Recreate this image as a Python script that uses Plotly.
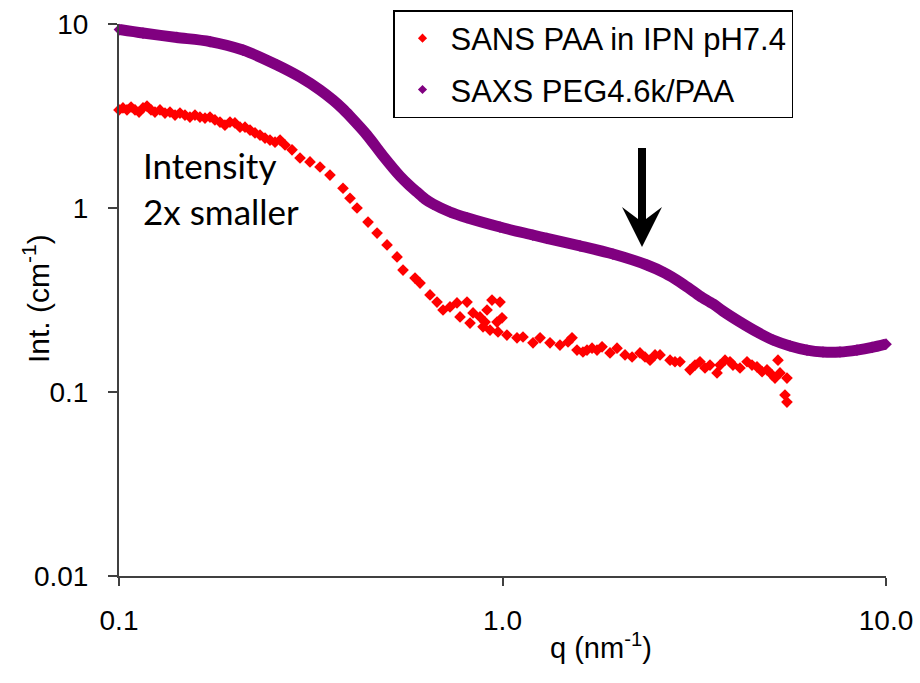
import plotly.graph_objects as go

# ---------------- data ----------------
sans_q = [0.100, 0.1024, 0.1049, 0.1075, 0.1101, 0.1128, 0.1155, 0.1183, 0.1212, 0.1241,
          0.1279, 0.1318, 0.1358, 0.1400, 0.1442, 0.1486, 0.1531, 0.1578, 0.1626, 0.1676,
          0.1727, 0.1779, 0.1834, 0.1889, 0.1947, 0.2006, 0.2068, 0.2131, 0.2196, 0.2263,
          0.2332, 0.2403, 0.2476, 0.2552, 0.2630, 0.2710, 0.2826, 0.2965, 0.3148, 0.3343,
          0.3549, 0.3838, 0.4003, 0.4175, 0.4460, 0.4709, 0.5000, 0.5309, 0.5503, 0.5914,
          0.6095, 0.6471, 0.6749, 0.6997, 0.7296, 0.7609, 0.7749, 0.8081, 0.8229, 0.8379,
          0.8737, 0.8897, 0.9004, 0.9113, 0.9278, 0.9389, 0.9676, 0.9734, 0.9851, 0.9970,
          1.027, 1.091, 1.131, 1.201, 1.253, 1.330, 1.412, 1.482, 1.518, 1.564,
          1.621, 1.661, 1.712, 1.764, 1.818, 1.907, 1.989, 2.087, 2.177, 2.283,
          2.353, 2.425, 2.499, 2.575, 2.735, 2.817, 2.903, 3.083, 3.177, 3.273,
          3.373, 3.476, 3.626, 3.692, 3.804, 3.920, 3.990, 4.162, 4.341, 4.473,
          4.609, 4.751, 4.894, 5.043, 5.135, 5.228, 5.291, 5.452, 5.518, 5.518]
sans_I = [3.41, 3.50, 3.41, 3.54, 3.41, 3.32, 3.50, 3.58, 3.41, 3.32,
          3.41, 3.28, 3.32, 3.20, 3.28, 3.20, 3.12, 3.20, 3.12, 3.08,
          3.12, 3.01, 2.93, 2.82, 2.93, 2.90, 2.75, 2.75, 2.65, 2.56,
          2.49, 2.40, 2.34, 2.28, 2.34, 2.20, 2.07, 1.87, 1.78, 1.67,
          1.51, 1.28, 1.13, 1.00, 0.839, 0.731, 0.630, 0.542, 0.460, 0.416,
          0.391, 0.337, 0.308, 0.279, 0.290, 0.305, 0.256, 0.308, 0.237, 0.269,
          0.256, 0.226, 0.240, 0.279, 0.217, 0.316, 0.240, 0.212, 0.308, 0.253,
          0.204, 0.197, 0.199, 0.185, 0.197, 0.185, 0.180, 0.187, 0.197, 0.169,
          0.165, 0.169, 0.173, 0.169, 0.176, 0.163, 0.173, 0.159, 0.155, 0.163,
          0.155, 0.149, 0.159, 0.159, 0.149, 0.146, 0.146, 0.132, 0.140, 0.146,
          0.135, 0.140, 0.127, 0.140, 0.149, 0.146, 0.140, 0.135, 0.146, 0.140,
          0.137, 0.129, 0.132, 0.124, 0.119, 0.149, 0.127, 0.0963, 0.119, 0.0882]

saxs_q = [0.1003, 0.1155, 0.1416, 0.1727, 0.2105, 0.2582, 0.2965, 0.3343, 0.3614, 0.3837,
          0.3997, 0.4433, 0.488, 0.5404, 0.574, 0.598, 0.628, 0.659, 0.7296, 0.808,
          0.985, 1.20, 1.306, 1.592, 1.941, 2.381, 2.653, 2.903, 3.083, 3.273,
          3.540, 3.758, 4.162, 4.609, 5.074, 5.62, 6.223, 6.85, 7.586, 8.40,
          9.194, 10.0]
saxs_I = [9.33, 8.93, 8.45, 8.03, 7.22, 5.99, 5.15, 4.38, 3.86, 3.45,
          3.16, 2.49, 1.92, 1.49, 1.317, 1.222, 1.119, 1.051, 0.951, 0.885,
          0.788, 0.713, 0.683, 0.622, 0.562, 0.490, 0.443, 0.396, 0.363, 0.332,
          0.301, 0.275, 0.240, 0.212, 0.1917, 0.178, 0.169, 0.165, 0.165, 0.169,
          0.1746, 0.182]

series_names = ["SANS PAA in IPN pH7.4", "SAXS PEG4.6k/PAA"]
series_colors = ["#FF0000", "#800080"]

x_tickvals = [0.1, 1.0, 10.0]
x_ticktext = ["0.1", "1.0", "10.0"]
y_tickvals = [0.01, 0.1, 1, 10]
y_ticktext = ["0.01", "0.1", "1", "10"]

# ---------------- figure ----------------
L, R, T, B = 119, 34, 24, 107
W, H = 920, 683
PW, PH = W - L - R, H - T - B

def px_x(p):
    return (p - L) / PW

def px_y(p):
    return (H - B - p) / PH

fig = go.Figure()

fig.add_trace(go.Scatter(
    x=sans_q, y=sans_I, mode="markers", showlegend=False, cliponaxis=False,
    marker=dict(symbol="diamond", size=9, color=series_colors[0], line=dict(width=0)),
))
fig.add_trace(go.Scatter(
    x=saxs_q, y=saxs_I, mode="lines+markers", showlegend=False, cliponaxis=False,
    line=dict(color=series_colors[1], width=11, shape="spline", smoothing=0.8),
    marker=dict(symbol="diamond", size=9, color=series_colors[1], line=dict(width=0)),
))
# legend entries
for i, (nm, col) in enumerate(zip(series_names, series_colors)):
    fig.add_trace(go.Scatter(
        x=[None], y=[None], mode="markers", name=nm, legendgroup=f"g{i}",
        marker=dict(symbol="diamond", size=7, color=col),
    ))

FONT = "Liberation Sans, Arial, sans-serif"
axis_font = dict(family=FONT, size=28, color="black")

fig.update_xaxes(
    type="log", range=[-1, 1], tickvals=x_tickvals, ticktext=x_ticktext,
    showline=True, linecolor="#404040", linewidth=2, mirror=False,
    ticks="outside", ticklen=8, tickwidth=1.5, tickcolor="#404040",
    showgrid=False, zeroline=False, tickfont=axis_font, ticklabelstandoff=10,
)
fig.update_yaxes(
    type="log", range=[-2, 1], tickvals=y_tickvals, ticktext=y_ticktext,
    showline=True, linecolor="#404040", linewidth=2, mirror=False,
    ticks="outside", ticklen=9, tickwidth=1.5, tickcolor="#404040",
    showgrid=False, zeroline=False, tickfont=axis_font, ticklabelstandoff=14,
)

annotations = [
    dict(text="q (nm<sup>-1</sup>)", xref="paper", yref="paper",
         x=px_x(601), y=px_y(646), xanchor="center", yanchor="middle",
         showarrow=False, font=dict(family=FONT, size=29, color="black")),
    dict(text="Int. (cm<sup>-1</sup>)", xref="paper", yref="paper",
         x=px_x(36), y=px_y(299), xanchor="center", yanchor="middle",
         textangle=-90, showarrow=False, font=dict(family=FONT, size=30, color="black")),
    dict(text="Intensity<br>2x smaller", xref="paper", yref="paper",
         x=px_x(141), y=px_y(142), xanchor="left", yanchor="top", align="left",
         showarrow=False, font=dict(family="Lato, Open Sans, sans-serif", size=35, color="black")),
]

shapes = [
    dict(type="line", xref="paper", yref="paper",
         x0=px_x(642), x1=px_x(642), y0=px_y(148), y1=px_y(224),
         line=dict(color="black", width=8)),
    dict(type="path", xref="paper", yref="paper",
         path=(f"M {px_x(622)} {px_y(207)} L {px_x(642)} {px_y(247)} "
               f"L {px_x(662)} {px_y(207)} L {px_x(642)} {px_y(222)} Z"),
         fillcolor="black", line=dict(color="black", width=0)),
]

fig.update_layout(
    width=W, height=H,
    margin=dict(l=L, r=R, t=T, b=B, autoexpand=False),
    paper_bgcolor="white", plot_bgcolor="white",
    showlegend=True,
    legend=dict(x=px_x(393), y=px_y(10), xanchor="left", yanchor="top",
                bordercolor="black", borderwidth=1.5, bgcolor="white",
                font=dict(family=FONT, size=31, color="black"),
                tracegroupgap=8, itemsizing="trace", itemwidth=46),
    annotations=annotations, shapes=shapes,
)

fig.write_html("out.html")
